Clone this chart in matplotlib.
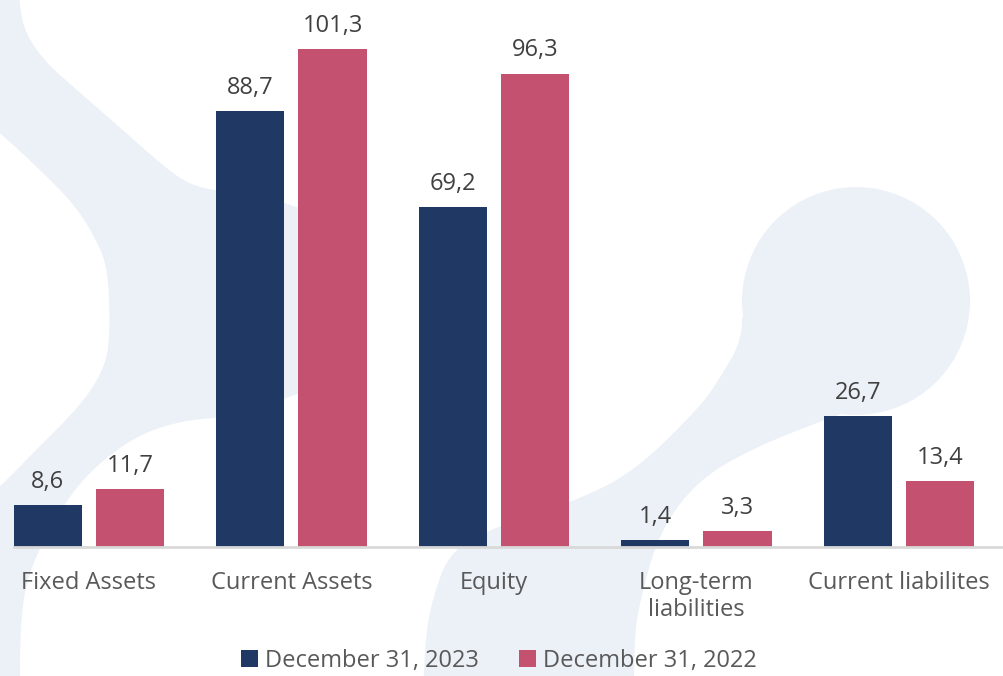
import matplotlib
matplotlib.use("Agg")
import matplotlib.pyplot as plt
from matplotlib.patches import Polygon, Circle
import numpy as np

# ---- data ----
categories = ["Fixed Assets", "Current Assets", "Equity", "Long-term\nliabilities", "Current liabilites"]
series_names = ["December 31, 2023", "December 31, 2022"]
values_2023 = [8.6, 88.7, 69.2, 1.4, 26.7]
values_2022 = [11.7, 101.3, 96.3, 3.3, 13.4]

NAVY = "#203864"
PINK = "#c4516f"
WATERMARK = "#ecf1f8"
FONT = ["Open Sans", "DejaVu Sans"]

W, H = 1004, 676
fig = plt.figure(figsize=(W / 100, H / 100), dpi=100)


def smooth(pts, rounds=3):
    """Chaikin corner cutting, keeps the outline soft."""
    p = np.asarray(pts, float)
    for _ in range(rounds):
        q = np.roll(p, -1, axis=0)
        p = np.column_stack([0.75 * p + 0.25 * q, 0.25 * p + 0.75 * q]).reshape(-1, 2)
    return p


# ---- faint logo shapes in the background (pixel coordinates) ----
bg = fig.add_axes([0, 0, 1, 1], zorder=0)
bg.set_xlim(0, W)
bg.set_ylim(H, 0)
bg.axis("off")

left_shape = [
    (-40, -40), (16, -40), (20, 10), (26, 34), (45, 62), (85, 97), (125, 132),
    (160, 163), (185, 182), (210, 190), (240, 192), (297, 205), (360, 240),
    (362, 372), (335, 381), (300, 393), (233, 417), (183, 420), (133, 437),
    (83, 477), (50, 527), (27, 577), (20, 627), (20, 720), (-40, 720),
    (-40, 520), (0, 487), (33, 453), (83, 403), (106, 365), (110, 330),
    (108, 273), (100, 247), (77, 207), (33, 163), (0, 133), (-40, 100),
]
right_band = [
    (742, 300), (742, 340), (720, 378), (700, 407), (633, 473), (570, 503),
    (500, 525), (450, 550), (432, 600), (425, 640), (422, 730), (634, 730),
    (634, 640), (640, 600), (660, 530), (700, 478), (760, 445), (830, 418),
    (903, 391), (940, 362), (963, 338), (970, 300),
]
bg.add_patch(Polygon(smooth(left_shape), closed=True, color=WATERMARK, lw=0))
bg.add_patch(Polygon(smooth(right_band), closed=True, color=WATERMARK, lw=0))
bg.add_patch(Circle((856, 301), 114, color=WATERMARK, lw=0))

# ---- bar chart ----
ax = fig.add_axes([14 / W, 129 / H, (W - 14) / W, 547 / H], zorder=1)
ax.patch.set_alpha(0)

x = np.arange(len(categories))
width = 0.337
offset = 0.203
b1 = ax.bar(x - offset, values_2023, width, color=NAVY, label=series_names[0])
b2 = ax.bar(x + offset, values_2022, width, color=PINK, label=series_names[1])

for bars, vals in [(b1, values_2023), (b2, values_2022)]:
    ax.bar_label(bars, labels=[f"{v:.1f}".replace(".", ",") for v in vals],
                 padding=8, fontsize=17, color="#404040", family=FONT)

ax.set_xlim(-0.370, 4.519)
ax.set_ylim(0, 111.27)

ax.set_xticks(x)
ax.set_xticklabels(categories, fontsize=17, color="#595959", family=FONT,
                   linespacing=1.2)
ax.tick_params(axis="x", length=0, pad=17)
ax.set_yticks([])
for s in ["top", "right", "left"]:
    ax.spines[s].set_visible(False)
ax.spines["bottom"].set_color("#d9d9d9")
ax.spines["bottom"].set_linewidth(2)

fig.legend(loc="center", bbox_to_anchor=(0.497, 1 - 661 / H), ncol=2,
           frameon=False, handlelength=0.7, handleheight=0.7,
           handletextpad=0.3, columnspacing=1.7,
           prop={"family": FONT, "size": 17}, labelcolor="#595959")

fig.savefig("out.png", dpi=100)
